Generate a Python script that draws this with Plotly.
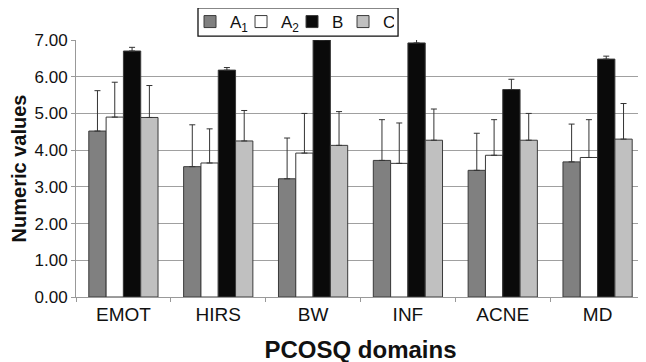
import plotly.graph_objects as go

categories = ["EMOT", "HIRS", "BW", "INF", "ACNE", "MD"]
series_names = ["A<sub>1</sub>", "A<sub>2</sub>", "B", "C"]

a1_values = [4.52, 3.55, 3.22, 3.72, 3.45, 3.68]
a2_values = [4.90, 3.65, 3.92, 3.64, 3.86, 3.80]
b_values = [6.70, 6.18, 7.00, 6.92, 5.65, 6.48]
c_values = [4.89, 4.25, 4.13, 4.27, 4.27, 4.30]

a1_err = [1.10, 1.14, 1.11, 1.11, 1.01, 1.03]
a2_err = [0.95, 0.93, 1.08, 1.10, 0.97, 1.03]
b_err = [0.10, 0.07, 0.02, 0.10, 0.28, 0.08]
c_err = [0.87, 0.83, 0.92, 0.85, 0.73, 0.97]

values = [a1_values, a2_values, b_values, c_values]
errors = [a1_err, a2_err, b_err, c_err]
colors = ["#808080", "#ffffff", "#0a0a0a", "#c0c0c0"]

font_family = "Liberation Sans, Arial, sans-serif"

fig = go.Figure()
for name, vals, errs, col in zip(series_names, values, errors, colors):
    fig.add_trace(go.Bar(
        name=name,
        x=categories,
        y=vals,
        marker=dict(color=col, line=dict(color="#3a3a3a", width=1)),
        error_y=dict(type="data", symmetric=False, array=errs,
                     arrayminus=[0] * len(errs),
                     color="#333333", thickness=1, width=3),
        cliponaxis=False,
    ))

# legend frame drawn as a shape around the legend entries
fig.add_shape(type="rect", xref="paper", yref="paper",
              x0=0.2144, x1=0.566, y0=1.015, y1=1.125,
              line=dict(color="#111111", width=1.3), fillcolor="rgba(0,0,0,0)")

# the page body adds an 8px offset, so margins are compensated
fig.update_layout(
    width=646, height=362,
    margin=dict(l=68, r=9, t=32, b=73, autoexpand=False),
    paper_bgcolor="white", plot_bgcolor="white",
    barmode="group", bargap=0.27, bargroupgap=0,
    font=dict(family=font_family, color="#111111", size=16),
    legend=dict(
        orientation="h", x=0.2004, xanchor="left", y=1.14, yanchor="top",
        borderwidth=0, bgcolor="rgba(0,0,0,0)",
        font=dict(size=17), itemwidth=30,
        entrywidth=6, entrywidthmode="pixels",
        traceorder="normal",
    ),
    xaxis=dict(
        title=dict(text="<b>PCOSQ domains</b>", font=dict(size=24), standoff=17),
        showline=True, linecolor="#999999", linewidth=1,
        ticks="outside", tickson="boundaries", ticklen=4, tickcolor="#999999",
        tickfont=dict(size=19),
    ),
    yaxis=dict(
        title=dict(text="<b>Numeric values</b>", font=dict(size=20), standoff=20),
        range=[0, 7], dtick=1, tickformat=".2f",
        showgrid=True, gridcolor="#a0a0a0", gridwidth=1,
        showline=True, linecolor="#999999", linewidth=1,
        ticks="outside", ticklen=4, tickcolor="#999999",
        tickfont=dict(size=17),
        zeroline=False,
    ),
)

fig.write_html("out.html")
